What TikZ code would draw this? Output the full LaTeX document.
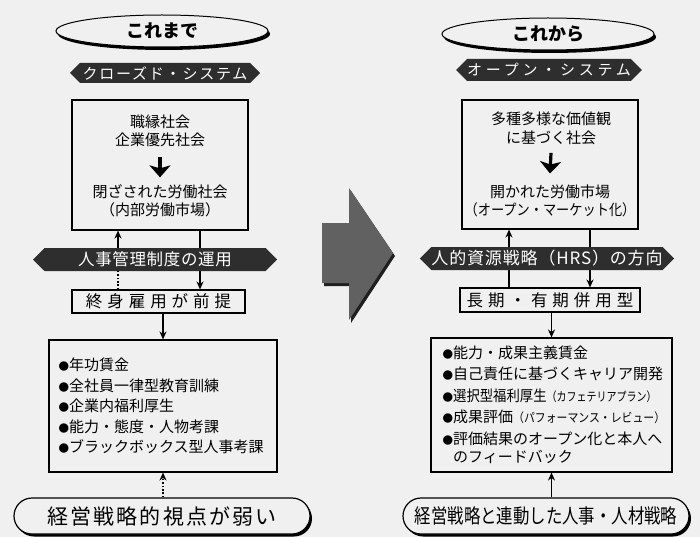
\documentclass[tikz,border=0pt]{standalone}
\usepackage{fontspec}
\usepackage{graphicx}
\setmainfont{Noto Sans CJK JP}
\usetikzlibrary{shapes.geometric,shapes.symbols,arrows.meta,shadows}
\definecolor{bg}{gray}{0.94}
\newcommand{\myfs}[2]{\fontsize{#1}{#2}\selectfont}
\newcommand{\mybul}{{\myfs{10.5}{10.5}●}}
\newcommand{\mylsp}[1]{\addfontfeatures{LetterSpace=#1}}
\begin{document}
\begin{tikzpicture}[x=1pt,y=-1pt,
  oval/.style={ellipse, draw=black, line width=1pt, fill=bg, minimum width=212pt, minimum height=32pt, inner sep=0pt,
    font=\myfs{18}{18}\bfseries, drop shadow={shadow xshift=2pt, shadow yshift=-3pt, fill=black, opacity=1}},
  banner/.style={signal, signal to=west and east, signal pointer angle=90, fill=black!82, text=white, inner sep=0pt},
  box/.style={draw=black, line width=1.1pt, inner sep=0pt},
  boxtxt/.style={inner sep=0pt, align=center, font=\myfs{15}{18.5}},
  pill/.style={draw=black, line width=1.2pt, fill=bg, rounded corners=18pt, minimum height=36pt, inner sep=0pt,
    drop shadow={shadow xshift=2pt, shadow yshift=-2.5pt, fill=black, opacity=1}},
  ln/.style={line width=1.3pt},
  arr/.style={line width=1.3pt, -{Stealth[length=8pt,width=7pt]}},
  dotln/.style={line width=1.8pt, dash pattern=on 1.6pt off 1.8pt},
  dotarr/.style={line width=1.8pt, dash pattern=on 1.6pt off 1.8pt, -{Stealth[length=8pt,width=7pt]}},
  bigdown/.style={line width=3.2pt, -{Stealth[length=12pt,width=21pt,inset=3pt]}}
]
\fill[bg] (0,0) rectangle (700,537);
\useasboundingbox (0,0) rectangle (700,537);

% ---------- left column ----------
\node[oval] (LE) at (162,31) {これまで};
\node[banner, minimum width=190pt, minimum height=20pt, font=\myfs{15}{15}] (LT) at (165,73) {\mylsp{12}クローズド・システム};
\node[box, minimum width=176pt, minimum height=130pt] (L1) at (160,165) {};
\node[boxtxt] (L1a) at (160,131) {職縁社会\\企業優先社会};
\node[boxtxt] (L1b) at (160,201) {閉ざされた労働社会\\（内部労働市場）};
\draw[bigdown] ([yshift=-10pt]L1a.south) -- ([yshift=7pt]L1b.north);
\node[banner, minimum width=244pt, minimum height=23pt, font=\myfs{16.5}{16.5}] (LB) at (155,259.5) {\mylsp{4}人事管理制度の運用};
\node[box, minimum width=173pt, minimum height=23pt, font=\myfs{16.5}{16.5}] (L2) at (158.5,301.5) {\mylsp{30}終身雇用が前提};
\node[box, minimum width=228pt, minimum height=132pt] (L3) at (163,406) {};
\node[inner sep=0pt, anchor=west, align=left, font=\myfs{15}{20.5}] (L3t) at ([xshift=10pt]L3.west)
  {\mybul 年功賃金\\\mybul 全社員一律型教育訓練\\\mybul 企業内福利厚生\\\mybul 能力・態度・人物考課\\\mybul ブラックボックス型人事考課};
\node[pill, minimum width=296pt, font=\myfs{21}{21}] (LP) at (162,516) {\mylsp{10}経営戦略的視点が弱い};

\coordinate (lu) at (118,0);
\coordinate (ld) at (200,0);
\draw[arr] (LB.north -| lu) -- (L1.south -| lu);
\draw[dotln] (L2.north -| lu) -- (LB.south -| lu);
\draw[ln] (L1.south -| ld) -- (LB.north -| ld);
\draw[arr] (LB.south -| ld) -- (L2.north -| ld);
\draw[arr] (L2.south -| L3.north) -- (L3.north);
\draw[dotarr] (LP.north -| L3.south) -- (L3.south);

% ---------- middle arrow ----------
\fill[black!88] (324,226) -- (351,226) -- (351,191) -- (395,256) -- (351,323) -- (351,286) -- (324,286) -- cycle;
\fill[black!62] (322,223) -- (349,223) -- (349,188) -- (393,253) -- (349,320) -- (349,283) -- (322,283) -- cycle;

% ---------- right column ----------
\node[oval] (RE) at (548,34) {これから};
\node[banner, minimum width=182pt, minimum height=22pt, font=\myfs{15}{15}] (RT) at (549,70) {\mylsp{25}オープン・システム};
\node[box, minimum width=176pt, minimum height=129pt] (R1) at (550,164.5) {};
\node[boxtxt] (R1a) at (551,128.5) {多種多様な価値観\\に基づく社会};
\node[boxtxt] (R1b) at (550,201) {開かれた労働市場\\\scalebox{0.88}[1]{（オープン・マーケット化）}};
\draw[bigdown] ([yshift=-8pt]R1a.south) -- ([yshift=11pt]R1b.north);
\node[banner, minimum width=250pt, minimum height=23pt, font=\myfs{17}{17}] (RB) at (547,258.5) {\mylsp{5}人的資源戦略（HRS）の方向};
\node[box, minimum width=180pt, minimum height=24pt, font=\myfs{16.5}{16.5}] (R2) at (550,300) {\mylsp{30}長期・有期併用型};
\node[box, minimum width=241pt, minimum height=134pt] (R3) at (551.5,405) {};
\node[inner sep=0pt, anchor=west, align=left, font=\myfs{15}{21.5}] (R3t) at ([xshift=12pt]R3.west)
  {\mybul 能力・成果主義賃金\\\mybul 自己責任に基づくキャリア開発\\\mybul \scalebox{0.89}[1]{選択型福利厚生}{\myfs{12.5}{12.5}\scalebox{0.8}[1]{（カフェテリアプラン）}}\\\mybul 成果評価{\myfs{12.5}{12.5}\scalebox{0.87}[1]{（パフォーマンス・レビュー）}}\\\mybul 評価結果のオープン化と本人へ\\[-3pt]\phantom{\mybul}のフィードバック};
\node[pill, minimum width=286pt, font=\myfs{20}{20}] (RP) at (546,516) {\scalebox{0.82}[1]{経営戦略と連動した人事・人材戦略}};

\coordinate (ru) at (509,0);
\coordinate (rd) at (590,0);
\draw[arr] (RB.north -| ru) -- (R1.south -| ru);
\draw[ln] (R2.north -| ru) -- (RB.south -| ru);
\draw[ln] (R1.south -| rd) -- (RB.north -| rd);
\draw[arr] (RB.south -| rd) -- (R2.north -| rd);
\draw[arr] (R2.south -| R3.north) -- (R3.north);
\draw[arr] (RP.north -| R3.south) -- (R3.south);
\end{tikzpicture}
\end{document}
